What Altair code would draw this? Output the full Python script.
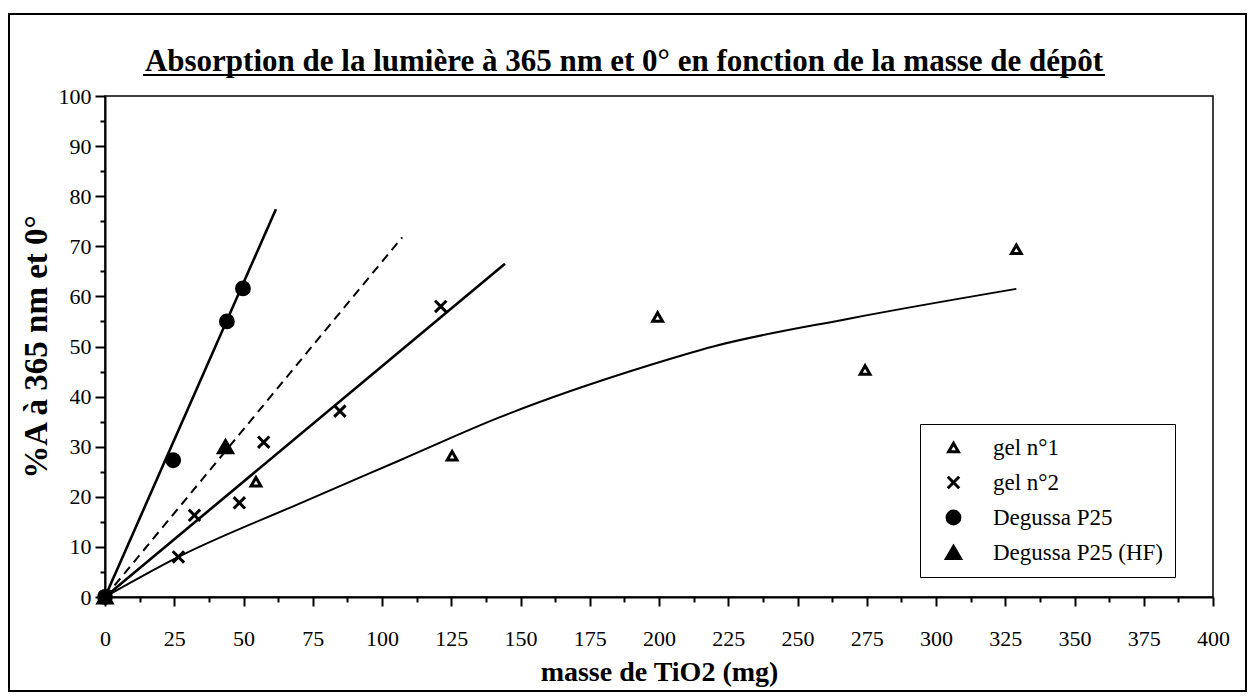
import altair as alt
import pandas as pd

# ---- data ----
series_names = ["gel n°1", "gel n°2", "Degussa P25", "Degussa P25 (HF)"]

gel1_x = [0, 54.5, 125.3, 199.5, 274.4, 329.0]
gel1_y = [0, 23.0, 28.2, 55.9, 45.3, 69.4]
gel2_x = [0, 26.5, 32.3, 48.5, 57.3, 84.8, 121.2]
gel2_y = [0, 8.0, 16.3, 18.8, 30.9, 37.1, 58.0]
p25_x = [0, 24.6, 44.0, 49.8]
p25_y = [0, 27.3, 55.0, 61.6]
hf_x = [0, 43.5]
hf_y = [0, 30.0]

# fitted lines / curve drawn in the reference
fit_p25_x = [0, 61.7]
fit_p25_y = [0, 77.4]
fit_hf_x = [0, 107.3]
fit_hf_y = [0, 71.8]
fit_gel2_x = [0, 144.4]
fit_gel2_y = [0, 66.5]
fit_gel1_x = [0, 26.5, 70.0, 106.5, 142.6, 196.8, 219.6, 269.0, 329.0]
fit_gel1_y = [0, 8.0, 18.6, 27.3, 35.9, 46.3, 50.0, 55.6, 61.5]

x_ticks = [i * 12.5 for i in range(33)]
y_ticks = [i * 5 for i in range(21)]

title_text = "Absorption de la lumière à 365 nm et 0° en fonction de la masse de dépôt"
x_title = "masse de TiO2 (mg)"
y_title = "%A à 365 nm et 0°"

SERIF = "'Liberation Serif', 'Times New Roman', Times, serif"

# ---- tables ----
rows = []
for name, xs, ys in zip(series_names, [gel1_x, gel2_x, p25_x, hf_x], [gel1_y, gel2_y, p25_y, hf_y]):
    for a, b in zip(xs, ys):
        rows.append({"x": a, "y": b, "serie": name})
points_df = pd.DataFrame(rows)

def line_df(xs, ys):
    return pd.DataFrame({"x": xs, "y": ys})

X = alt.X(
    "x:Q",
    scale=alt.Scale(domain=[0, 400], nice=False, zero=False),
    title=x_title,
    axis=alt.Axis(
        values=x_ticks,
        labelExpr="datum.value % 25 === 0 ? datum.label : ''",
        tickSize={"condition": {"test": "datum.value % 25 === 0", "value": 9}, "value": 5},
        labelPadding=22,
        titlePadding=9,
        labelAngle=0,
        labelFlush=False,
        labelFont=SERIF, labelFontSize=22, labelColor="black",
        titleFont=SERIF, titleFontSize=28, titleFontWeight="bold", titleColor="black",
    ),
)
Y = alt.Y(
    "y:Q",
    scale=alt.Scale(domain=[0, 100], nice=False, zero=False),
    title=y_title,
    axis=alt.Axis(
        values=y_ticks,
        labelExpr="datum.value % 10 === 0 ? datum.label : ''",
        tickSize={"condition": {"test": "datum.value % 10 === 0", "value": 10}, "value": 5},
        labelPadding=4,
        titlePadding=5,
        labelFlush=False,
        labelFont=SERIF, labelFontSize=22, labelColor="black",
        titleFont=SERIF, titleFontSize=33, titleFontWeight="bold", titleColor="black",
    ),
)

cross_path = "M-1,-1L1,1M1,-1L-1,1"

legend = alt.Legend(
    title=None, labelFont=SERIF, labelFontSize=23, labelColor="black",
    labelLimit=400, labelOffset=28, symbolOffset=10,
    symbolStrokeWidth=3,
)

points = alt.Chart(points_df).mark_point(
    filled=True, strokeWidth=3, opacity=1
).encode(
    x=X,
    y=Y,
    shape=alt.Shape(
        "serie:N",
        scale=alt.Scale(domain=series_names,
                        range=["triangle-up", cross_path, "circle", "triangle-up"]),
        legend=legend,
    ),
    fill=alt.Fill(
        "serie:N",
        scale=alt.Scale(domain=series_names,
                        range=["white", "transparent", "black", "black"]),
        legend=legend,
    ),
    stroke=alt.Stroke(
        "serie:N",
        scale=alt.Scale(domain=series_names,
                        range=["black", "black", "black", "black"]),
        legend=legend,
    ),
    size=alt.Size(
        "serie:N",
        scale=alt.Scale(domain=series_names, range=[95, 200, 140, 150]),
        legend=legend,
    ),
)

l_gel1 = alt.Chart(line_df(fit_gel1_x, fit_gel1_y)).mark_line(
    color="black", strokeWidth=2, interpolate="monotone").encode(x=X, y=Y)
l_gel2 = alt.Chart(line_df(fit_gel2_x, fit_gel2_y)).mark_line(
    color="black", strokeWidth=2.6).encode(x=X, y=Y)
l_p25 = alt.Chart(line_df(fit_p25_x, fit_p25_y)).mark_line(
    color="black", strokeWidth=2.6).encode(x=X, y=Y)
l_hf = alt.Chart(line_df(fit_hf_x, fit_hf_y)).mark_line(
    color="black", strokeWidth=2, strokeDash=[9, 6]).encode(x=X, y=Y)

dummy = pd.DataFrame({"a": [0]})
title_mark = alt.Chart(dummy).mark_text(
    font=SERIF, fontSize=31, fontWeight="bold", color="black",
    align="center", baseline="alphabetic",
).encode(x=alt.value(519), y=alt.value(-25), text=alt.value(title_text))
underline = alt.Chart(dummy).mark_rule(color="black", strokeWidth=2).encode(
    x=alt.value(38), x2=alt.value(1000), y=alt.value(-21))
frame = alt.Chart(dummy).mark_rect(filled=False, stroke="black", strokeWidth=2).encode(
    x=alt.value(-96), x2=alt.value(1141), y=alt.value(-82), y2=alt.value(595))

chart = alt.layer(frame, title_mark, underline, l_gel1, l_gel2, l_hf, l_p25, points).properties(
    width=1108,
    height=501,
    autosize=alt.AutoSizeParams(type="none"),
    padding={"left": 97, "top": 88, "right": 35, "bottom": 95},
    background="white",
).configure_view(
    stroke="black", strokeWidth=1.5
).configure_axis(
    domainColor="black", domainWidth=2, tickColor="black", tickWidth=2,
    grid=False,
).configure_legend(
    orient="none", legendX=815, legendY=328,
    strokeColor="black", padding=12, rowPadding=10,
    fillColor="white",
)

chart.save("out.html", embed_options={"renderer": "svg", "actions": False})
